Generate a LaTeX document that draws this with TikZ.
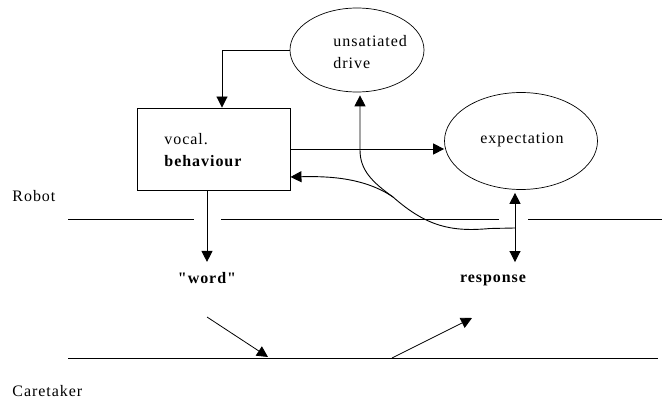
\documentclass[tikz,border=0pt]{standalone}
\usepackage{fontspec}
\newfontfamily\diafont{Liberation Serif}[LetterSpace=6]
\usetikzlibrary{shapes.geometric,arrows.meta}
\begin{document}
\begin{tikzpicture}[x=1pt,y=-1pt,
  line width=0.9pt,
  font=\diafont\fontsize{16}{22}\selectfont,
  arr/.style={-{Triangle[length=11pt,width=11pt]}},
  darr/.style={{Triangle[length=11pt,width=11pt]}-{Triangle[length=11pt,width=11pt]}},
  oval/.style={draw,ellipse,line width=0.7pt,inner sep=0pt},
  lbl/.style={inner sep=0pt,anchor=west},
  blbl/.style={inner sep=0pt,font=\diafont\fontsize{16}{22}\selectfont\bfseries}]
\useasboundingbox[fill=white] (0,0) rectangle (662,401);

% nodes
\node[oval,minimum width=134pt,minimum height=84pt] (drive) at (357,50) {};
\node[lbl,align=left] (drivetxt) at (333,52) {unsatiated\\drive};
\node[oval,minimum width=153pt,minimum height=97pt] (exp) at (521,141) {};
\node[inner sep=0pt] (exptxt) at (522,140) {expectation};
\node[draw,rectangle,minimum width=153pt,minimum height=82pt,inner sep=0pt] (box) at (213.5,149) {};
\node[lbl,align=left] (boxtxt) at (164,150) {vocal.\\\textbf{behaviour}};
\node[blbl] (word) at (207,278) {"word"};
\node[blbl] (resp) at (493,280) {response};
\node[lbl] (robot) at (12,196) {Robot};
\node[lbl] (care) at (12,391) {Caretaker};

% boundary lines
\draw (68,219) -- (194,219);
\draw (221,219) -- (499,219);
\draw (528,219) -- (662,219);
\draw (68,358) -- (658,358);

% connectors
\coordinate (j) at (515,228);
\coordinate (m) at (393,197);
\draw[arr] (drive.west) -| ([xshift=8.5pt]box.north);
\draw[arr] (box.east) -- (box.east -| exp.west);
\draw[arr] ([xshift=-6.5pt]box.south) -- ([yshift=10pt]word.north);
\draw[darr,shorten >=12pt] ([xshift=-6pt,yshift=-3pt]exp.south) -- (resp.north -| j);

\draw[arr] (j) -- (490,228.5) .. controls (452,232) and (427,227) .. (m)
  .. controls (365,178) and (330,176) .. ([yshift=-28pt]box.east);
\draw[arr] (m) .. controls (372,182) and (360,170) .. (360,150) -- ([xshift=3pt,yshift=-3pt]drive.south);

% caretaker arrows
\coordinate (c1) at (207,317);
\coordinate (c2) at (268,357);
\coordinate (c3) at (392,358);
\coordinate (c4) at (472,318);
\draw[arr,line width=0.8pt] (c1) -- (c2);
\draw[arr,line width=0.8pt] (c3) -- (c4);
\end{tikzpicture}
\end{document}
